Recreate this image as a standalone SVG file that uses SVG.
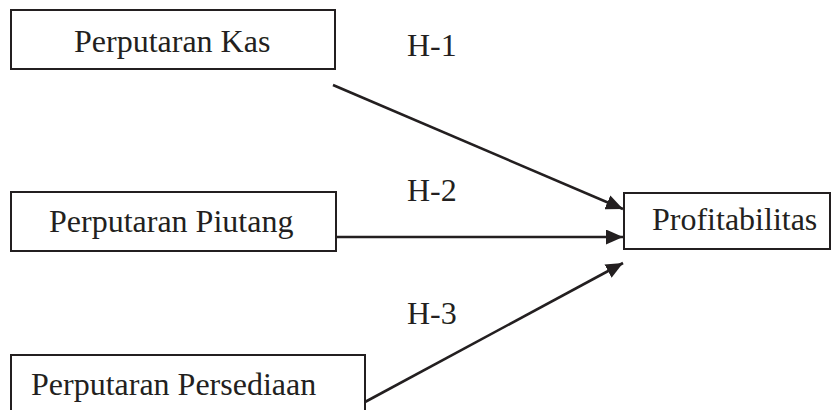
<svg xmlns="http://www.w3.org/2000/svg" width="832" height="410" viewBox="0 0 832 410">
  <style>
    .box { fill: #ffffff; stroke: #231f20; stroke-width: 2; }
    .lbl { font-family: "Liberation Serif", "Times New Roman", serif; font-size: 32px; fill: #231f20; }
    .edge { stroke: #231f20; stroke-width: 2.6; fill: none; marker-end: url(#head); }
  </style>
  <defs>
    <marker id="head" viewBox="0 0 17 15" refX="17" refY="7.5" markerWidth="17" markerHeight="15" markerUnits="userSpaceOnUse" orient="auto">
      <path d="M0,0 L17,7.5 L0,15 Z" fill="#231f20"/>
    </marker>
  </defs>
  <rect width="832" height="410" fill="#ffffff"/>

  <g id="kas">
    <rect class="box" x="11" y="10" width="324" height="59"/>
    <text class="lbl" x="74" y="52">Perputaran Kas</text>
  </g>
  <g id="piutang">
    <rect class="box" x="11" y="192" width="325" height="59"/>
    <text class="lbl" x="49" y="232">Perputaran Piutang</text>
  </g>
  <g id="persediaan">
    <rect class="box" x="11" y="355" width="354" height="70"/>
    <text class="lbl" x="31" y="395">Perputaran Persediaan</text>
  </g>
  <g id="profitabilitas">
    <rect class="box" x="624" y="193" width="206" height="56"/>
    <text class="lbl" x="652" y="230">Profitabilitas</text>
  </g>

  <g id="connectors">
    <line class="edge" x1="333" y1="85" x2="623" y2="209"/>
    <line class="edge" x1="336" y1="237" x2="623" y2="237"/>
    <line class="edge" x1="365" y1="402" x2="623" y2="263"/>
    <text class="lbl" x="407" y="56">H-1</text>
    <text class="lbl" x="407" y="201">H-2</text>
    <text class="lbl" x="407" y="324">H-3</text>
  </g>
</svg>
